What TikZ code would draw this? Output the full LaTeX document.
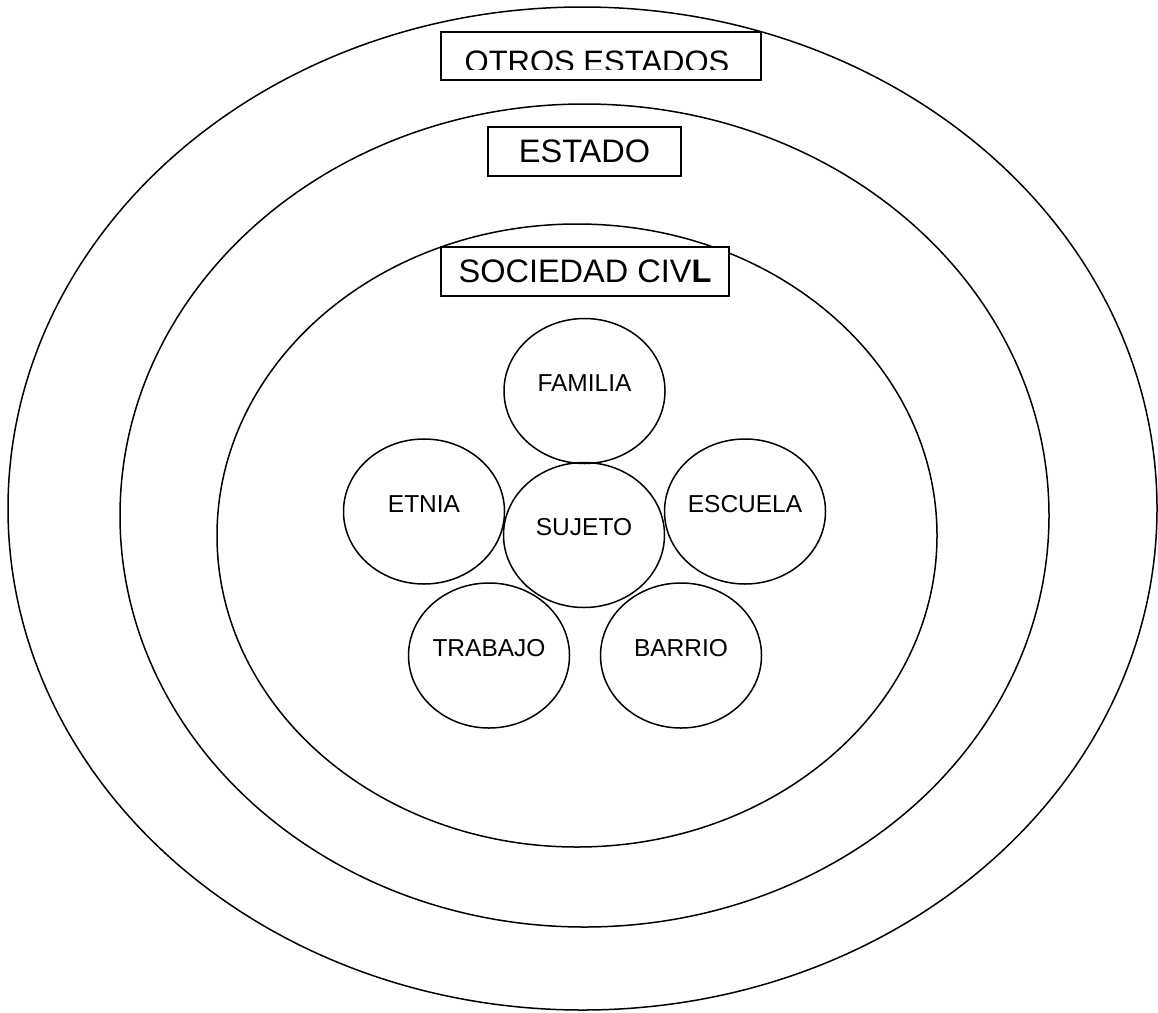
\documentclass[tikz,border=0pt]{standalone}
\usepackage{fontspec}
\setmainfont{Liberation Sans}
\usetikzlibrary{shapes.geometric}

\begin{document}
\begin{tikzpicture}[x=1pt, y=-1pt, line width=1.5pt,
      circ/.style={draw, ellipse, inner sep=0pt, minimum width=161pt, minimum height=145pt},
      tag/.style={draw, fill=white, inner sep=0pt, font=\fontsize{32.5}{38}\selectfont},
      lbl/.style={font=\fontsize{24.5}{28}\selectfont, inner sep=0pt}]
    \useasboundingbox (0,0) rectangle (1158,1012);
    \draw (582.5,508.5) ellipse [x radius=574.5, y radius=501.5];
    \draw (584.5,515.5) ellipse [x radius=464.5, y radius=411.5];
    \draw (577,535.5) ellipse [x radius=360, y radius=311.5];
    \node[tag, minimum width=320pt, minimum height=48pt] (otros) at (601,56) {};
    \begin{scope}
      \clip (442,33) rectangle (760,69);
      \node[font=\fontsize{31}{37}\selectfont, anchor=base, inner sep=0pt] (otrostxt) at (597,72) {OTROS ESTADOS};
    \end{scope}
    \node[tag, minimum width=193pt, minimum height=49pt] (estado) at (584.5,151.5) {ESTADO};
    \node[tag, minimum width=288pt, minimum height=49pt] (civil) at (585,271.5) {SOCIEDAD CIV\textbf{L}};
    \node[circ, label={[lbl, yshift=7.5pt]center:FAMILIA}] (familia) at (584.5,391) {};
    \node[circ, label={[lbl, yshift=7.5pt]center:ETNIA}] (etnia) at (424,511.5) {};
    \node[circ, label={[lbl, yshift=7.5pt]center:SUJETO}] (sujeto) at (584,535) {};
    \node[circ, label={[lbl, yshift=7.5pt]center:ESCUELA}] (escuela) at (745,511.5) {};
    \node[circ, label={[lbl, yshift=7.5pt]center:TRABAJO}] (trabajo) at (489,655.5) {};
    \node[circ, label={[lbl, yshift=7.5pt]center:BARRIO}] (barrio) at (681,655.5) {};
  \end{tikzpicture}
\end{document}
